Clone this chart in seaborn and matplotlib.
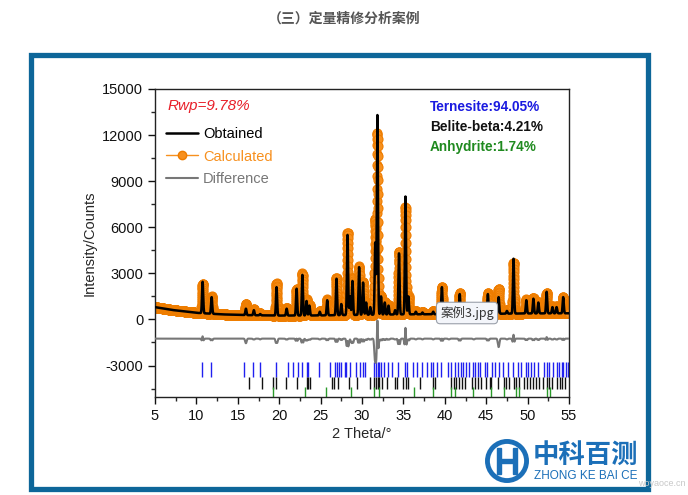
import numpy as np
import pandas as pd
import matplotlib
matplotlib.use("Agg")
import matplotlib.pyplot as plt
import seaborn as sns
from matplotlib.patches import Rectangle, Circle
from matplotlib.lines import Line2D
from matplotlib.ticker import MultipleLocator

# Background of the pattern, read at a few 2-theta positions
bg_theta = [5, 7, 10, 13, 16, 20, 25, 30, 35, 40, 45, 50, 55]
bg_counts = [800, 620, 430, 330, 280, 250, 260, 300, 330, 340, 360, 390, 400]

# Reflections: position, observed peak top, calculated peak top (counts)
peak_theta = [10.75, 11.84, 15.98, 16.94, 17.70, 19.68, 20.90, 22.10, 22.80, 23.30,
              23.65, 24.90, 25.80, 26.92, 27.50, 28.25, 28.55, 28.85, 29.65, 30.13,
              30.50, 31.00, 31.60, 31.86, 32.30, 32.75, 33.20, 34.00, 34.47, 35.25,
              35.60, 36.50, 37.30, 38.60, 39.65, 40.50, 41.80, 43.50, 45.20, 46.50,
              47.50, 48.30, 49.85, 50.70, 51.30, 52.30, 53.00, 53.50, 54.30]
peak_obs = [2450, 1450, 700, 600, 350, 2100, 700, 2000, 2900, 1200,
            900, 500, 1250, 2650, 1000, 5500, 1500, 2500, 3400, 2400,
            1100, 800, 5000, 13300, 1500, 1100, 900, 600, 4300, 8000,
            1500, 500, 450, 500, 2100, 500, 1650, 550, 1650, 1450,
            550, 3950, 1250, 1350, 1100, 1800, 800, 800, 1450]
peak_calc = [2300, 1500, 1000, 650, 400, 2350, 750, 2000, 3000, 1300,
             950, 550, 1300, 2700, 1050, 5650, 1550, 2700, 3450, 2450,
             1150, 850, 6500, 12100, 1550, 1150, 950, 650, 4400, 7300,
             1550, 550, 500, 550, 2100, 550, 1700, 600, 1700, 2000,
             600, 3700, 1300, 1400, 1150, 1700, 850, 850, 1450]

# Bragg reflection markers of the three phases
tern_ticks = [10.7, 11.8, 15.8, 16.8, 17.7, 19.6, 21.1, 21.7, 22.3, 22.8, 23.3, 23.5,
              24.8, 26.1, 26.7, 27.0, 27.2, 27.5, 27.9, 28.1, 28.5, 29.3, 29.7, 30.1,
              30.4, 31.5, 31.7, 31.9, 32.1, 32.3, 32.7, 33.2, 33.6, 34.4, 35.2, 35.4,
              36.2, 36.6, 37.2, 37.8, 38.3, 38.6, 39.1, 39.5, 40.4, 40.8, 41.2, 41.6,
              41.9, 42.2, 42.5, 42.9, 43.4, 43.7, 44.0, 44.3, 44.8, 45.1, 45.7, 46.1,
              46.6, 47.0, 47.6, 48.2, 48.8, 49.2, 49.8, 50.0, 50.4, 50.8, 51.2, 52.0,
              52.3, 52.6, 53.1, 53.5, 53.8, 54.1, 54.3, 54.6, 54.9]
belite_ticks = [16.4, 17.9, 19.2, 19.6, 20.8, 22.2, 23.3, 23.5, 23.7, 26.4, 26.6, 27.1,
                28.4, 29.4, 31.0, 31.5, 31.7, 31.9, 32.1, 32.4, 33.0, 34.0, 34.2, 35.0,
                35.3, 35.6, 37.0, 38.6, 38.8, 40.8, 41.1, 41.4, 41.7, 42.1, 42.4, 43.3,
                43.6, 44.0, 44.4, 45.0, 45.4, 45.6, 46.4, 47.1, 47.4, 47.8, 48.3, 48.6,
                49.0, 49.6, 49.9, 50.3, 50.7, 51.0, 51.4, 51.8, 52.3, 52.6, 53.0, 53.5,
                53.9, 54.2, 54.5]
anhy_ticks = [19.3, 23.1, 25.7, 28.7, 31.5, 32.1, 36.3, 38.6, 40.8, 41.2, 43.4, 45.6,
              47.2, 48.6, 49.0, 52.3, 52.7]

phase_labels = ["Ternesite:94.05%", "Belite-beta:4.21%", "Anhydrite:1.74%"]
phase_colors = ["#1a1ae0", "#111111", "#1f8a1f"]

# build the profiles from the peak table
theta = np.arange(5, 55.001, 0.01)
bg = np.interp(theta, bg_theta, bg_counts)
obs = bg.copy()
calc = bg.copy()
for p, ho, hc in zip(peak_theta, peak_obs, peak_calc):
    b = np.interp(p, bg_theta, bg_counts)
    obs += (ho - b) * np.exp(-0.5 * ((theta - p) / 0.07) ** 2)
    calc += (hc - b) * np.exp(-0.5 * ((theta - p) / 0.078) ** 2)
df = pd.DataFrame({"theta": theta, "obs": obs, "calc": calc,
                   "diff": obs - calc - 1250})

sns.set_style("ticks")
plt.rcParams["font.family"] = ["Liberation Sans", "Noto Sans CJK SC"]
plt.rcParams["axes.unicode_minus"] = False

fig = plt.figure(figsize=(6.88, 4.95), dpi=100)
ax = fig.add_axes([155 / 688, 1 - 397 / 495, 414 / 688, 308 / 495])

orange = "#f7901e"
sns.lineplot(data=df, x="theta", y="calc", ax=ax, color=orange, lw=1,
             marker="o", markersize=6.5, markeredgecolor="#ee7d00", markeredgewidth=0.8,
             estimator=None, sort=False, zorder=2)
sns.lineplot(data=df, x="theta", y="obs", ax=ax, color="black", lw=1.8,
             estimator=None, sort=False, zorder=3)
sns.lineplot(data=df, x="theta", y="diff", ax=ax, color="#777777", lw=1.5,
             estimator=None, sort=False, zorder=3)

ax.vlines(tern_ticks, -3720, -2800, color="#2020f0", lw=1)
ax.vlines(belite_ticks, -4500, -3780, color="#111111", lw=1)
ax.vlines(anhy_ticks, -5050, -4400, color="#2a9a2a", lw=1)

ax.set_xlim(5, 55)
ax.set_ylim(-5050, 15000)
ax.xaxis.set_major_locator(MultipleLocator(5))
ax.xaxis.set_minor_locator(MultipleLocator(2.5))
ax.yaxis.set_major_locator(MultipleLocator(3000))
ax.yaxis.set_minor_locator(MultipleLocator(1500))
ax.tick_params(which="major", length=5, width=1, labelsize=10.5, colors="#111111")
ax.tick_params(which="minor", length=3, width=1)
for s in ax.spines.values():
    s.set_linewidth(1)
    s.set_color("#222222")
ax.set_xlabel("2 Theta/°", fontsize=10.5, labelpad=3)
ax.set_ylabel("Intensity/Counts", fontsize=10.5, labelpad=4)

handles = [Line2D([], [], color="black", lw=1.8),
           Line2D([], [], color=orange, lw=1, marker="o", markersize=6,
                  markeredgecolor="#ee7d00"),
           Line2D([], [], color="#777777", lw=1.5)]
ax.legend(handles, ["Obtained", "Calculated", "Difference"], loc="upper left",
          bbox_to_anchor=(-0.005, 0.92), frameon=False, fontsize=10.5,
          handlelength=2.2, handletextpad=0.35, labelspacing=0.6,
          labelcolor=["black", orange, "#777777"])

ax.text(0.031, 0.968, "Rwp=9.78%", transform=ax.transAxes, color="#e8202a",
        fontsize=11, style="italic", va="top")
for i, (lab, col) in enumerate(zip(phase_labels, phase_colors)):
    ax.text(0.664, 0.963 - i * 0.064, lab, transform=ax.transAxes, color=col,
            fontsize=9.8, fontweight="bold", va="top")

# page decoration around the picture
fig.text(344 / 688, 1 - 19 / 495, "（三）定量精修分析案例", ha="center", va="center",
         fontsize=10, fontweight="bold", color="#555555",
         family=["Noto Sans CJK SC", "DejaVu Sans"])
fig.add_artist(Rectangle((31 / 688, 1 - 489 / 495), 617 / 688, 434 / 495,
                         transform=fig.transFigure, fill=False,
                         ec="#0d6699", lw=3.8))
fig.text(467 / 688, 1 - 313 / 495, "案例3.jpg", ha="center", va="center",
         fontsize=9, color="#333333", family=["Noto Sans CJK SC", "DejaVu Sans"],
         bbox=dict(boxstyle="round,pad=0.3", fc="#f3f5fa", ec="#9aa0aa", lw=0.8))

logo = fig.add_axes([484 / 688, 1 - 484 / 495, 46 / 688, 46 / 495])
logo.set_xlim(-1, 1)
logo.set_ylim(-1, 1)
logo.set_aspect("equal")
logo.axis("off")
logo.add_patch(Circle((0, 0), 0.85, fill=False, ec="#1b6fb8", lw=3.5))
logo.add_patch(Rectangle((-0.45, -0.55), 0.2, 1.1, color="#1b6fb8"))
logo.add_patch(Rectangle((0.25, -0.55), 0.2, 1.1, color="#1b6fb8"))
logo.add_patch(Rectangle((-0.3, -0.08), 0.6, 0.16, color="#1b6fb8"))
fig.text(533 / 688, 1 - 455 / 495, "中科百测", ha="left", va="center",
         fontsize=19, fontweight="bold", color="#1b6fb8",
         family=["Noto Sans CJK SC", "DejaVu Sans"])
fig.text(534 / 688, 1 - 476 / 495, "ZHONG KE BAI CE", ha="left", va="center",
         fontsize=8.5, color="#1b6fb8")
fig.text(686 / 688, 1 - 484 / 495, "woyaoce.cn", ha="right", va="center",
         fontsize=6.5, color="#c8c8c8")

fig.savefig("out.png", dpi=100)
